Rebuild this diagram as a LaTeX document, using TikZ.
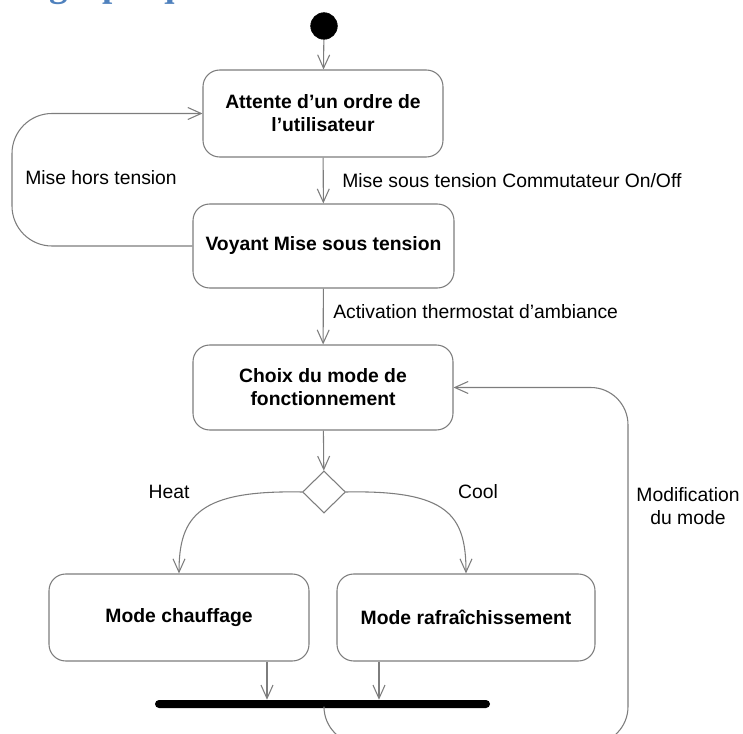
\documentclass[tikz,border=0pt]{standalone}
\usepackage{fontspec}
\setmainfont{Liberation Sans}
\newfontfamily\headfont{Liberation Serif}
\usetikzlibrary{arrows.meta,shapes.geometric}
\definecolor{linegray}{RGB}{125,125,125}
\definecolor{headblue}{RGB}{79,129,189}
\begin{document}
\begin{tikzpicture}[x=0.75pt,y=-0.75pt,
  flow/.style={draw=linegray,line width=0.8pt,
    -{Straight Barb[length=10pt,width=9pt,line width=0.8pt]}},
  plain/.style={draw=linegray,line width=0.8pt},
  stepbox/.style={draw=linegray,line width=0.8pt,rounded corners=12.5pt,
    align=center,font=\bfseries\fontsize{14.5pt}{17.3pt}\selectfont,inner sep=0pt},
  lbl/.style={font=\fontsize{14.5pt}{17.3pt}\selectfont,inner sep=0pt,align=center},
  every node/.style={text=black}]
\useasboundingbox (0,0) rectangle (743,734);
\clip (0,0) rectangle (743,734);

% heading line of the page, only its lower edge falls inside
\node[anchor=base west,inner sep=0pt,text=headblue,
  font=\headfont\bfseries\fontsize{27.75pt}{30pt}\selectfont] (head) at (49,-3.5) {graphique};

% activity nodes
\node[circle,fill=black,draw=black,minimum size=20pt,inner sep=0pt] (init) at (324,26) {};
\node[stepbox,minimum width=180pt,minimum height=65.25pt] (wait) at (323,113.5)
  {Attente d’un ordre de\\l’utilisateur};
\node[stepbox,minimum width=195.75pt,minimum height=63pt] (lamp) at (323.5,246)
  {Voyant Mise sous tension};
\node[stepbox,minimum width=195pt,minimum height=63.75pt] (choice) at (323,387.5)
  {Choix du mode de\\fonctionnement};
\node[diamond,draw=linegray,line width=0.8pt,minimum width=32.25pt,minimum height=31.5pt,
  inner sep=0pt] (dec) at (324,492) {};
\node[stepbox,minimum width=195pt,minimum height=65.25pt] (heat) at (179,617.5)
  {Mode chauffage};
\node[stepbox,minimum width=193.5pt,minimum height=65.25pt] (cool) at (466,617.5)
  {Mode rafraîchissement};
\node[fill=black,rounded corners=3pt,minimum width=251.25pt,minimum height=6pt,
  inner sep=0pt] (bar) at (322.5,704) {};

% helper coordinates for the routed connectors
\coordinate (lx) at (12,0);
\coordinate (rx) at (628,0);
\coordinate (by) at (0,744);
\coordinate (hx) at (267,0);
\coordinate (cx) at (379,0);
\coordinate (mx) at (324,0);

% connectors
\draw[flow] (init) -- (wait);
\draw[flow] (wait) -- (lamp);
\draw[flow] (lamp) -- (choice);
\draw[flow] (choice) -- (dec);
\draw[flow,rounded corners=30pt] (lamp.west) -- (lamp.west -| lx) -- (wait.west -| lx) -- (wait.west);
\draw[flow] (dec.west) .. controls (200,490) and (179,515) .. (heat.north);
\draw[flow] (dec.east) .. controls (448,490) and (466,515) .. (cool.north);
\draw[flow] (heat.south -| hx) -- (bar.north -| hx);
\draw[flow] (cool.south -| cx) -- (bar.north -| cx);
\draw[flow,rounded corners=28pt] (bar.south -| mx) -- (by -| mx) -- (by -| rx)
  -- (choice.east -| rx) -- (choice.east);

% transition labels
\node[lbl,anchor=west] (l1) at (342,181) {Mise sous tension Commutateur On/Off};
\node[lbl,anchor=west] (l2) at (25,178) {Mise hors tension};
\node[lbl,anchor=west] (l3) at (333,312) {Activation thermostat d’ambiance};
\node[lbl] (l4) at (169,492) {Heat};
\node[lbl] (l5) at (478,492) {Cool};
\node[lbl] (l6) at (688,506) {Modification\\du mode};
\end{tikzpicture}
\end{document}
